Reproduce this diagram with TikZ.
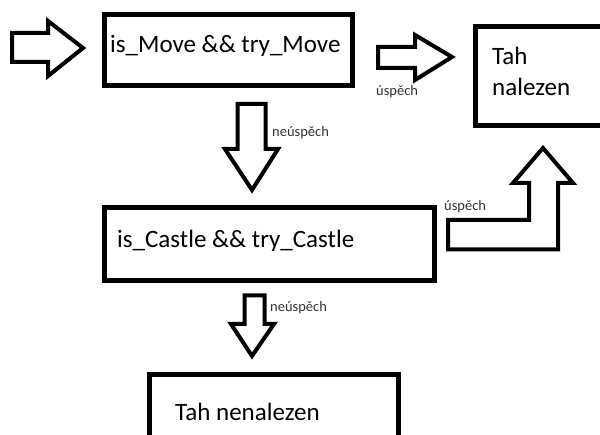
\documentclass[tikz,border=0pt]{standalone}
\usepackage{fontspec}
\setmainfont{Carlito}
\begin{document}
\begin{tikzpicture}[x=1pt,y=-1pt,
  frame/.style={draw=black,line width=5pt,inner sep=0pt},
  blockarrow/.style={draw=black,line width=4pt,line join=miter,fill=white},
  bigtext/.style={anchor=base west,inner sep=0pt,font=\fontsize{25}{30}\selectfont,text=black},
  smalltext/.style={anchor=base west,inner sep=0pt,font=\fontsize{14.5}{16}\selectfont,text=black!80}]
\useasboundingbox (0,0) rectangle (600,435);
\begin{scope}
\clip (0,0) rectangle (600,435);

% boxes
\draw[frame] (104.5,15) rectangle (352.5,86);
\draw[frame] (104,207.5) rectangle (434,281);
\draw[frame] (475,27) rectangle (620,125.5);
\draw[frame] (149.5,374.5) rectangle (398.5,450);

% box texts
\node[bigtext] (move) at (110,53) {is\_Move \&\& try\_Move};
\node[bigtext] (castle) at (117,248) {is\_Castle \&\& try\_Castle};
\node[bigtext] (found1) at (492,65) {Tah};
\node[bigtext] (found2) at (492,96) {nalezen};
\node[bigtext] (notfound) at (175,421) {Tah nenalezen};

% block arrows
\draw[blockarrow] (12,33) -- (48,33) -- (48,21) -- (83,48) -- (48,76) -- (48,62) -- (12,62) -- cycle;
\draw[blockarrow] (378,47) -- (415,47) -- (415,35) -- (452,57) -- (415,80) -- (415,68) -- (378,68) -- cycle;
\draw[blockarrow] (237.5,104) -- (265.5,104) -- (265.5,149) -- (278,149) -- (252,190) -- (225,149) -- (237.5,149) -- cycle;
\draw[blockarrow] (244.5,295.5) -- (264.5,295.5) -- (264.5,324) -- (274,324) -- (252,356) -- (231,324) -- (244.5,324) -- cycle;
\draw[blockarrow] (448,220) -- (529,220) -- (529,183) -- (513,183) -- (543,148) -- (573,183) -- (558,183) -- (558,249.5) -- (448,249.5) -- cycle;

% arrow labels
\node[smalltext] (ok1) at (376,96) {úspěch};
\node[smalltext] (fail1) at (272,137) {neúspěch};
\node[smalltext] (ok2) at (444,211) {úspěch};
\node[smalltext] (fail2) at (270,312) {neúspěch};
\end{scope}
\end{tikzpicture}
\end{document}
